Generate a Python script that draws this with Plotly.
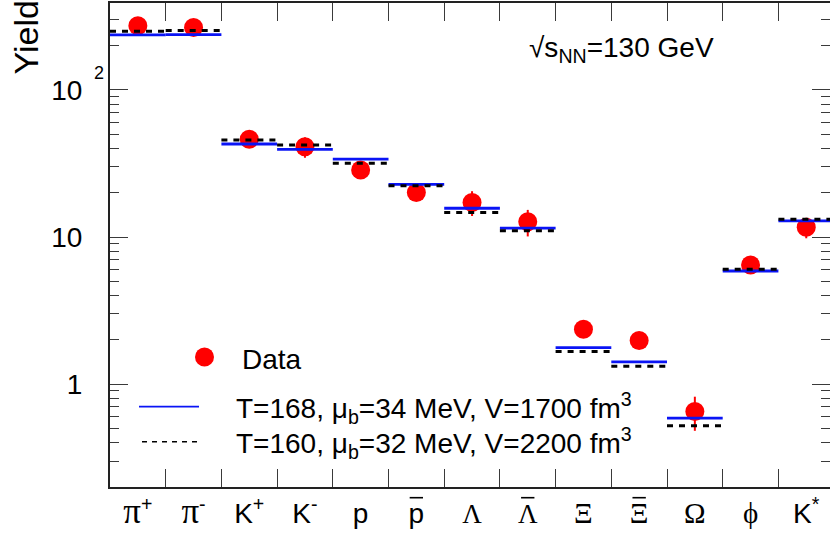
import numpy as np
import plotly.graph_objects as go

# Particle species (in plotting order)
species = ["pi+", "pi-", "K+", "K-", "p", "pbar", "Lambda", "Lambdabar",
           "Xi", "Xibar", "Omega", "phi", "K*"]
antiparticle_bar = [False, False, False, False, False, True, False, True,
                    False, True, False, False, False]

# Measured yields dN/dy and uncertainties
data_yield = [273, 266, 46.2, 41.1, 28.6, 20.1, 17.2, 12.7, 2.36, 1.98, 0.652, 6.46, 11.66]
data_err = [15, 15, 3.0, 6.5, 2.5, 2.0, 3.3, 2.6, 0.2, 0.18, 0.17, 0.7, 1.85]

# Statistical-model yields for two parameter sets
model_T168 = [237, 238, 42.9, 39.5, 33.9, 22.8, 15.7, 11.5, 1.77, 1.417, 0.587, 5.88, 12.9]
model_T160 = [251, 254, 45.7, 42.2, 31.7, 22.3, 14.7, 11.05, 1.665, 1.325, 0.521, 6.04, 13.2]

# y-axis labelling
y_major = [1, 10, 100]
y_major_text = ["1", "10", "10"]
y_minor = ([0.2, 0.3, 0.4, 0.5, 0.6, 0.7, 0.8, 0.9]
           + [2, 3, 4, 5, 6, 7, 8, 9]
           + [20, 30, 40, 50, 60, 70, 80, 90]
           + [200, 300])

SANS = "Liberation Sans"
SERIF = "Liberation Serif"


def greek(ch, size):
    return f"<span style=\"font-family:'{SERIF}';font-size:{size}px\">{ch}</span>"


tick_labels = [
    greek("π", 35) + "<sup>+</sup>",
    greek("π", 35) + "<sup>-</sup>",
    "K<sup>+</sup>",
    "K<sup>-</sup>",
    "p",
    "p",
    greek("Λ", 27),
    greek("Λ", 27),
    greek("Ξ", 29),
    greek("Ξ", 29),
    greek("Ω", 29),
    greek("ϕ", 29),
    "K<sup>*</sup>",
]

n = len(species)
xc = np.arange(n)

# Plot-area geometry (pixels)
W, H = 830, 536
ML, MT, MB = 110, 3, 49
bin_px = 55.7
x_hi = -0.5 + (W - ML) / bin_px


def step_segments(values):
    xs, ys = [], []
    for i, v in enumerate(values):
        xs += [i - 0.5, i + 0.5, None]
        ys += [v, v, None]
    return xs, ys


fig = go.Figure()

fig.add_trace(go.Scatter(
    x=xc, y=data_yield, mode="markers",
    marker=dict(color="#ff0000", size=19, line=dict(width=0)),
    error_y=dict(type="data", array=data_err, color="#ff0000", thickness=2, width=0),
    showlegend=False, hoverinfo="skip",
))

xs, ys = step_segments(model_T168)
fig.add_trace(go.Scatter(x=xs, y=ys, mode="lines",
                         line=dict(color="#0a14f5", width=2.8),
                         showlegend=False, hoverinfo="skip"))
xs, ys = step_segments(model_T160)
fig.add_trace(go.Scatter(x=xs, y=ys, mode="lines",
                         line=dict(color="#000000", width=3, dash="6px,6px"),
                         showlegend=False, hoverinfo="skip"))

axis_line = "#222222"
tick_col = "#3a3a3a"

fig.update_layout(
    width=W, height=H,
    margin=dict(l=ML, r=0, t=MT, b=MB, pad=0),
    paper_bgcolor="white", plot_bgcolor="white",
    font=dict(family=SANS, size=28, color="black"),
    xaxis=dict(
        range=[-0.5, x_hi], tickmode="array", tickvals=list(xc), ticktext=tick_labels,
        ticks="", showline=True, linewidth=2, linecolor=axis_line, mirror="ticks",
        showgrid=False, zeroline=False, automargin=False,
        tickfont=dict(family=SANS, size=28, color="black"),
        minor=dict(tickmode="array", tickvals=[i + 0.5 for i in range(n - 1)],
                   ticks="inside", ticklen=18, tickwidth=1.2, tickcolor=tick_col,
                   showgrid=False),
    ),
    yaxis=dict(
        type="log", range=[np.log10(0.2), np.log10(390)],
        tickmode="array", tickvals=y_major, ticktext=y_major_text,
        ticks="inside", ticklen=18, tickwidth=1.4, tickcolor=tick_col,
        showline=True, linewidth=2, linecolor=axis_line, mirror="ticks",
        showgrid=False, zeroline=False, automargin=False,
        ticklabelstandoff=20,
        tickfont=dict(family=SANS, size=28, color="black"),
        minor=dict(tickmode="array", tickvals=y_minor, ticks="inside",
                   ticklen=9, tickwidth=1.2, tickcolor=tick_col, showgrid=False),
    ),
)

plot_w = W - ML
plot_h = H - MT - MB


def px_x(p):
    return (p - ML) / plot_w


def px_y(p):
    return (H - MB - p) / plot_h


# Overbars for antiparticle labels
for i, has_bar in enumerate(antiparticle_bar):
    if has_bar:
        fig.add_shape(type="line", xref="x", yref="paper",
                      x0=i - 0.12, x1=i + 0.12, y0=px_y(497.7), y1=px_y(497.7),
                      line=dict(color="black", width=1.6))

# Exponent of the 10^2 label
fig.add_annotation(text="2", xref="paper", yref="y", x=0, y=np.log10(100),
                   xshift=-18, yshift=17, showarrow=False,
                   font=dict(family=SANS, size=18, color="black"))

# Axis title
fig.add_annotation(text="Yield", xref="paper", yref="paper",
                   x=0, xshift=-(ML - 25.5), y=px_y(77), yanchor="bottom",
                   xanchor="center", textangle=-90, showarrow=False,
                   font=dict(family=SANS, size=34, color="black"))

# Energy label
fig.add_annotation(text="√s<sub>NN</sub>=130 GeV", xref="paper", yref="paper",
                   x=px_x(527), y=px_y(50), xanchor="left", yanchor="middle",
                   showarrow=False, font=dict(family=SANS, size=28, color="black"))

# Legend
fig.add_shape(type="circle", xref="paper", yref="paper",
              xsizemode="pixel", ysizemode="pixel",
              xanchor=px_x(204.5), yanchor=px_y(357), x0=-9.5, x1=9.5, y0=-9.5, y1=9.5,
              fillcolor="#ff0000", line=dict(width=0))
fig.add_annotation(text="Data", xref="paper", yref="paper",
                   x=px_x(240), y=px_y(359), xanchor="left", yanchor="middle",
                   showarrow=False, font=dict(family=SANS, size=28, color="black"))

fig.add_shape(type="line", xref="paper", yref="paper",
              x0=px_x(139), x1=px_x(199), y0=px_y(406.7), y1=px_y(406.7),
              line=dict(color="#0a14f5", width=1.8))
fig.add_annotation(text="T=168, μ<sub>b</sub>=34 MeV, V=1700 fm<sup>3</sup>",
                   xref="paper", yref="paper",
                   x=px_x(234), y=px_y(408), xanchor="left", yanchor="middle",
                   showarrow=False, font=dict(family=SANS, size=28, color="black"))

fig.add_shape(type="line", xref="paper", yref="paper",
              x0=px_x(142), x1=px_x(199), y0=px_y(441.7), y1=px_y(441.7),
              line=dict(color="black", width=1.6, dash="5px,5px"))
fig.add_annotation(text="T=160, μ<sub>b</sub>=32 MeV, V=2200 fm<sup>3</sup>",
                   xref="paper", yref="paper",
                   x=px_x(234), y=px_y(443), xanchor="left", yanchor="middle",
                   showarrow=False, font=dict(family=SANS, size=28, color="black"))

fig.write_html("out.html")
